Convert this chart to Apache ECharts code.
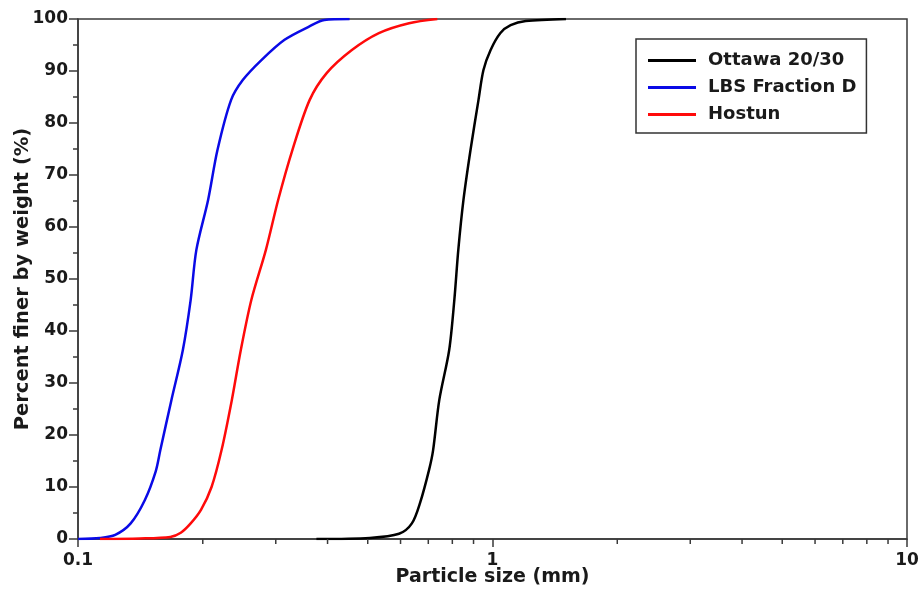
<!DOCTYPE html>
<html>
<head>
<meta charset="utf-8">
<script src="https://cdn.jsdelivr.net/npm/echarts@6/dist/echarts.min.js"></script>
<style>
  html, body { margin: 0; padding: 0; background: #fff; }
  #chart { width: 922px; height: 590px; }
</style>
</head>
<body>
<div id="chart"></div>
<script>
// particle size (mm) / percent finer pairs
var ottawaSize = [0.376, 0.506, 0.595, 0.639, 0.669, 0.703, 0.719, 0.744, 0.786, 0.809, 0.827, 0.851, 0.885, 0.925, 0.951, 0.989, 1.045, 1.106, 1.203, 1.504]
var ottawaPct = [0, 0.2, 1, 3, 7, 13.3, 17.1, 26.7, 36.3, 46, 55.6, 65.2, 74.8, 84.4, 90.2, 94, 97.3, 98.8, 99.6, 100]

var lbsSize = [0.1, 0.113, 0.123, 0.134, 0.145, 0.154, 0.158, 0.168, 0.179, 0.187, 0.193, 0.206, 0.217, 0.234, 0.250, 0.277, 0.315, 0.360, 0.393, 0.452]
var lbsPct = [0, 0.2, 0.8, 3, 7.5, 13, 17.1, 26.7, 36.3, 46, 55.6, 65.2, 74.8, 84.4, 88.3, 92.1, 96, 98.5, 99.8, 100]

var hostunSize = [0.113, 0.141, 0.167, 0.177, 0.187, 0.198, 0.210, 0.222, 0.235, 0.247, 0.262, 0.284, 0.304, 0.329, 0.362, 0.398, 0.457, 0.532, 0.629, 0.736]
var hostunPct = [0, 0.1, 0.4, 1.2, 3, 5.6, 10, 17.1, 26.7, 36.3, 46, 55.6, 65.2, 74.8, 84.4, 89.6, 94, 97.3, 99.2, 100]

var seriesNames = ['Ottawa 20/30', 'LBS Fraction D', 'Hostun']
var seriesColors = ['#000000', '#0a0ae6', '#ff0a0a']
var xMinorTicks = [0.2, 0.3, 0.4, 0.5, 0.6, 0.7, 0.8, 0.9, 2, 3, 4, 5, 6, 7, 8, 9]

function pairs(xs, ys) {
  return xs.map(function (x, i) { return [x, ys[i]] })
}

var chart = echarts.init(document.getElementById('chart'))
var font = '"DejaVu Sans", sans-serif'
var axisColor = '#3a3a3a'
var textColor = '#1a1a1a'

var lineSeries = [
  pairs(ottawaSize, ottawaPct),
  pairs(lbsSize, lbsPct),
  pairs(hostunSize, hostunPct)
].map(function (data, i) {
  return {
    name: seriesNames[i],
    type: 'line',
    data: data,
    showSymbol: false,
    smooth: 0.3,
    lineStyle: { color: seriesColors[i], width: 2.5, join: 'round' },
    itemStyle: { color: seriesColors[i] },
    z: 3
  }
})

// log axis minor ticks at 2..9 of each decade
lineSeries.push({
  type: 'custom',
  silent: true,
  clip: false,
  data: xMinorTicks.map(function (v) { return [v, 0] }),
  renderItem: function (params, api) {
    var p = api.coord([api.value(0), 0])
    return {
      type: 'line',
      shape: { x1: p[0], y1: p[1], x2: p[0], y2: p[1] + 5 },
      style: { stroke: axisColor, lineWidth: 1.5 }
    }
  },
  z: 4
})

chart.setOption({
  animation: false,
  textStyle: { fontFamily: font },
  grid: {
    left: 78,
    top: 19,
    right: 15,
    bottom: 51,
    outerBoundsMode: 'none',
    containLabel: false,
    show: true,
    borderColor: axisColor,
    borderWidth: 1.5
  },
  legend: {
    data: seriesNames,
    orient: 'vertical',
    left: 636,
    top: 39,
    padding: [12, 10, 9, 12],
    itemGap: 8,
    itemWidth: 48,
    itemHeight: 3,
    icon: 'rect',
    borderColor: '#333',
    borderWidth: 1.5,
    textStyle: { fontSize: 18, fontWeight: 'bold', color: textColor, padding: [0, 0, 0, 7], lineHeight: 19 }
  },
  xAxis: {
    type: 'log',
    logBase: 10,
    min: 0.1,
    max: 10,
    name: 'Particle size (mm)',
    nameLocation: 'middle',
    nameGap: 29,
    nameMoveOverlap: false,
    nameTextStyle: { fontSize: 19, fontWeight: 'bold', color: textColor },
    axisLine: { lineStyle: { color: axisColor, width: 1.5 } },
    axisTick: { show: true, inside: false, length: 8, lineStyle: { color: axisColor, width: 1.5 } },
    axisLabel: {
      fontSize: 17,
      fontWeight: 'bold',
      color: textColor,
      margin: 13,
      formatter: function (v) { return String(+v.toPrecision(2)) }
    },
    splitLine: { show: false },
    minorTick: { show: false }
  },
  yAxis: {
    type: 'value',
    min: 0,
    max: 100,
    interval: 10,
    name: 'Percent finer by weight (%)',
    nameLocation: 'middle',
    nameGap: 45,
    nameMoveOverlap: false,
    nameTextStyle: { fontSize: 19.5, fontWeight: 'bold', color: textColor },
    axisLine: { show: true, lineStyle: { color: axisColor, width: 1.5 } },
    axisTick: { show: true, inside: false, length: 9, lineStyle: { color: axisColor, width: 1.5 } },
    minorTick: { show: true, splitNumber: 2, length: 5, lineStyle: { color: axisColor, width: 1.5 } },
    axisLabel: { fontSize: 17, fontWeight: 'bold', color: textColor, margin: 10 },
    splitLine: { show: false }
  },
  series: lineSeries
})
</script>
</body>
</html>
